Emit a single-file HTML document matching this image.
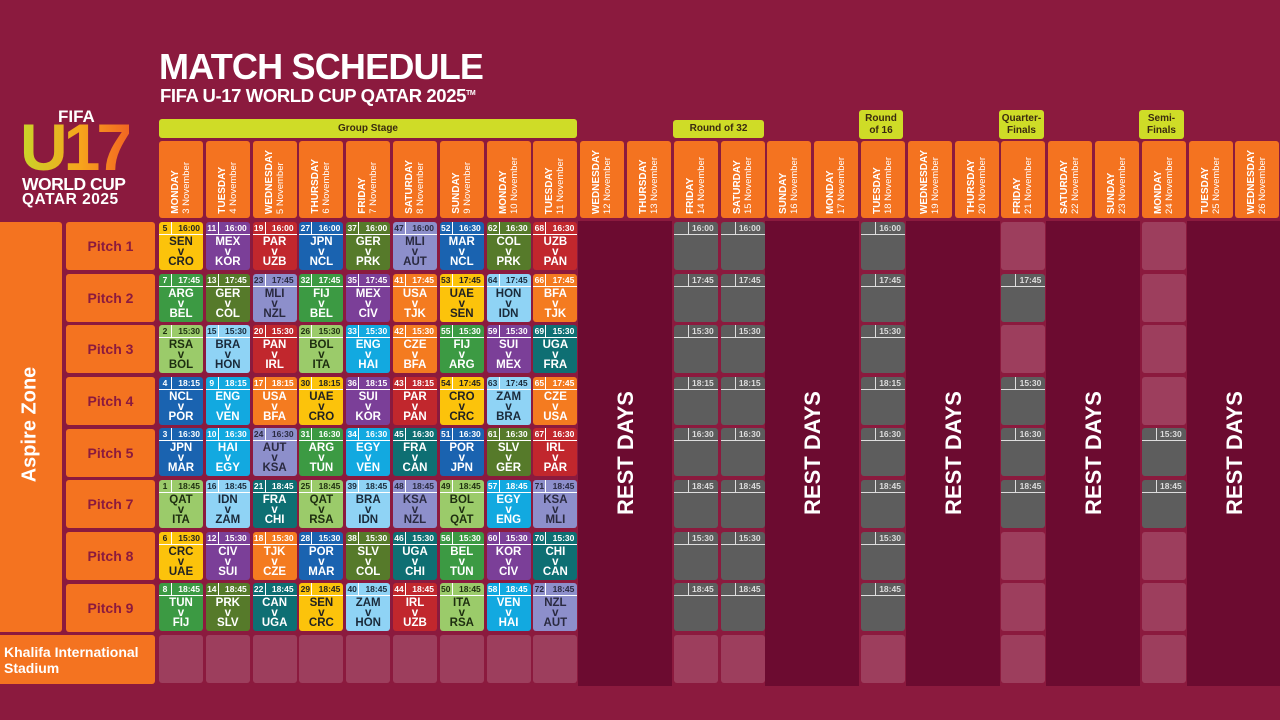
<!DOCTYPE html>
<html><head><meta charset="utf-8"><style>
*{margin:0;padding:0;box-sizing:border-box}
body{width:1280px;height:720px;overflow:hidden;background:#8b1a3e;font-family:"Liberation Sans",sans-serif;position:relative}
.abs{position:absolute}
.t1{left:159px;top:46px;color:#fff;font-weight:bold;font-size:36px;letter-spacing:-0.8px}
.t2{left:160px;top:85px;color:#fff;font-weight:bold;font-size:18.5px;letter-spacing:-0.4px}
.stage{position:absolute;background:#cfdc27;border-radius:3px;color:#3a2a10;font-weight:bold;font-size:10px;text-align:center;display:flex;align-items:center;justify-content:center;line-height:12px}
.hdr{position:absolute;top:141px;height:77px;width:44px;background:#f47320;border-radius:3px;display:flex;justify-content:center;align-items:flex-end;padding-bottom:4px}
.hdr span{writing-mode:vertical-rl;transform:rotate(180deg);color:#fff;font-size:9.5px;line-height:11px;white-space:nowrap}
.hdr b{font-size:10px}
.rest{position:absolute;top:221px;height:465px;background:#6c0b30}
.restt{position:absolute;color:#fff;font-weight:bold;font-size:22px;transform:rotate(-90deg);white-space:nowrap;width:140px;text-align:center}
.grid{position:absolute;left:159px;top:222px;display:grid;grid-template-columns:repeat(24,44px);column-gap:2.8px;grid-template-rows:repeat(9,48px);row-gap:3.6px}
.grid>i{display:block}
.m{border-radius:3px;position:relative;color:#fff;font-weight:bold;text-align:center;overflow:hidden}
.m b{position:absolute;left:0;top:0;width:13px;height:12px;font-size:8.5px;line-height:12px;border-right:1.5px solid #fff}
.m s{position:absolute;right:3px;top:0;height:12px;font-size:8.5px;line-height:12px;text-decoration:none}
.m:before{content:"";position:absolute;left:0;right:0;top:12px;border-top:1.5px solid #fff}
.m p{position:absolute;top:15px;left:0;right:0;font-size:11.5px;line-height:10px}
.k{background:#5d5d5d;border-radius:3px;position:relative;color:#ddd;font-weight:bold}
.k:before{content:"";position:absolute;left:0;right:0;top:12px;border-top:1.5px solid #ddd}
.k:after{content:"";position:absolute;left:14px;top:0;height:12px;border-left:1.5px solid #ddd}
.k s{position:absolute;right:4px;top:0;font-size:8.5px;line-height:12px;text-decoration:none}
.e{background:rgba(255,255,255,0.16);border-radius:3px}
.Y{background:#fcc30b;color:#222}.P{background:#7b3f98}.R{background:#c1272d}.B{background:#1a63b0}.O{background:#567a2a}.L{background:#8d8fcb;color:#2a2a40}.G{background:#3c9a43}.N{background:#f47b20}.LB{background:#8fd3f5;color:#1a2a3a}.LG{background:#9bcb6a;color:#1e2e10}.C{background:#12a9e0}.T{background:#0e6f73}
.pl{position:absolute;left:66px;width:89px;height:48px;background:#f47320;border-radius:3px;color:#8b1a3e;font-weight:bold;font-size:14px;display:flex;align-items:center;justify-content:center}
</style></head><body>
<div class="abs t1">MATCH SCHEDULE</div>
<div class="abs t2">FIFA U-17 WORLD CUP QATAR 2025<sup style="font-size:7px">TM</sup></div>
<!-- logo -->
<div class="abs" style="left:58px;top:107px;color:#fff;font-weight:bold;font-size:17px">FIFA</div>
<div class="abs" style="left:20px;top:114px;font-weight:bold;font-size:66px;letter-spacing:-4px;background:linear-gradient(90deg,#c8d62a,#f7a51c 55%,#f26522);-webkit-background-clip:text;background-clip:text;color:transparent;line-height:66px">U17</div>
<div class="abs" style="left:22px;top:174px;color:#fff;font-weight:bold;font-size:17.5px;letter-spacing:-0.5px">WORLD CUP</div>
<div class="abs" style="left:22px;top:191px;color:#fff;font-weight:bold;font-size:15.5px;letter-spacing:0.5px">QATAR 2025</div>

<div class="stage" style="left:159px;top:119px;width:418px;height:19px">Group Stage</div>
<div class="stage" style="left:673px;top:120px;width:91px;height:18px">Round of 32</div>
<div class="stage" style="left:859px;top:110px;width:44px;height:29px">Round<br>of 16</div>
<div class="stage" style="left:999px;top:110px;width:45px;height:29px">Quarter-<br>Finals</div>
<div class="stage" style="left:1139px;top:110px;width:45px;height:29px">Semi-<br>Finals</div>

<div class="hdr" style="left:159px"><span><b>MONDAY</b><br>3 November</span></div>
<div class="hdr" style="left:206px"><span><b>TUESDAY</b><br>4 November</span></div>
<div class="hdr" style="left:253px"><span><b>WEDNESDAY</b><br>5 November</span></div>
<div class="hdr" style="left:299px"><span><b>THURSDAY</b><br>6 November</span></div>
<div class="hdr" style="left:346px"><span><b>FRIDAY</b><br>7 November</span></div>
<div class="hdr" style="left:393px"><span><b>SATURDAY</b><br>8 November</span></div>
<div class="hdr" style="left:440px"><span><b>SUNDAY</b><br>9 November</span></div>
<div class="hdr" style="left:487px"><span><b>MONDAY</b><br>10 November</span></div>
<div class="hdr" style="left:533px"><span><b>TUESDAY</b><br>11 November</span></div>
<div class="hdr" style="left:580px"><span><b>WEDNESDAY</b><br>12 November</span></div>
<div class="hdr" style="left:627px"><span><b>THURSDAY</b><br>13 November</span></div>
<div class="hdr" style="left:674px"><span><b>FRIDAY</b><br>14 November</span></div>
<div class="hdr" style="left:721px"><span><b>SATURDAY</b><br>15 November</span></div>
<div class="hdr" style="left:767px"><span><b>SUNDAY</b><br>16 November</span></div>
<div class="hdr" style="left:814px"><span><b>MONDAY</b><br>17 November</span></div>
<div class="hdr" style="left:861px"><span><b>TUESDAY</b><br>18 November</span></div>
<div class="hdr" style="left:908px"><span><b>WEDNESDAY</b><br>19 November</span></div>
<div class="hdr" style="left:955px"><span><b>THURSDAY</b><br>20 November</span></div>
<div class="hdr" style="left:1001px"><span><b>FRIDAY</b><br>21 November</span></div>
<div class="hdr" style="left:1048px"><span><b>SATURDAY</b><br>22 November</span></div>
<div class="hdr" style="left:1095px"><span><b>SUNDAY</b><br>23 November</span></div>
<div class="hdr" style="left:1142px"><span><b>MONDAY</b><br>24 November</span></div>
<div class="hdr" style="left:1189px"><span><b>TUESDAY</b><br>25 November</span></div>
<div class="hdr" style="left:1235px"><span><b>WEDNESDAY</b><br>26 November</span></div>

<div class="rest" style="left:578px;width:94px"></div>
<div class="rest" style="left:765px;width:94px"></div>
<div class="rest" style="left:906px;width:94px"></div>
<div class="rest" style="left:1046px;width:94px"></div>
<div class="rest" style="left:1187px;width:93px"></div>
<div class="restt" style="left:556px;top:440px">REST DAYS</div>
<div class="restt" style="left:743px;top:440px">REST DAYS</div>
<div class="restt" style="left:884px;top:440px">REST DAYS</div>
<div class="restt" style="left:1024px;top:440px">REST DAYS</div>
<div class="restt" style="left:1165px;top:440px">REST DAYS</div>

<div class="abs" style="left:0;top:222px;width:62px;height:410px;background:#f47320;border-radius:0 3px 3px 0"></div>
<div class="abs" style="left:-50px;top:413px;width:160px;text-align:center;color:#fff;font-weight:bold;font-size:20px;transform:rotate(-90deg)">Aspire Zone</div>
<div class="pl" style="top:222px">Pitch 1</div>
<div class="pl" style="top:274px">Pitch 2</div>
<div class="pl" style="top:325px">Pitch 3</div>
<div class="pl" style="top:377px">Pitch 4</div>
<div class="pl" style="top:429px">Pitch 5</div>
<div class="pl" style="top:480px">Pitch 7</div>
<div class="pl" style="top:532px">Pitch 8</div>
<div class="pl" style="top:584px">Pitch 9</div>
<div class="abs" style="left:0;top:635px;width:155px;height:49px;background:#f47320;border-radius:0 3px 3px 0;color:#fff;font-weight:bold;font-size:14px;line-height:16px;padding:9px 0 0 4px">Khalifa International Stadium</div>

<div class="grid">
<!-- Pitch 1 -->
<div class="m Y"><b>5</b><s>16:00</s><p>SEN<br>v<br>CRO</p></div>
<div class="m P"><b>11</b><s>16:00</s><p>MEX<br>v<br>KOR</p></div>
<div class="m R"><b>19</b><s>16:00</s><p>PAR<br>v<br>UZB</p></div>
<div class="m B"><b>27</b><s>16:00</s><p>JPN<br>v<br>NCL</p></div>
<div class="m O"><b>37</b><s>16:00</s><p>GER<br>v<br>PRK</p></div>
<div class="m L"><b>47</b><s>16:00</s><p>MLI<br>v<br>AUT</p></div>
<div class="m B"><b>52</b><s>16:30</s><p>MAR<br>v<br>NCL</p></div>
<div class="m O"><b>62</b><s>16:30</s><p>COL<br>v<br>PRK</p></div>
<div class="m R"><b>68</b><s>16:30</s><p>UZB<br>v<br>PAN</p></div>
<i></i><i></i><div class="k"><s>16:00</s></div><div class="k"><s>16:00</s></div><i></i><i></i><div class="k"><s>16:00</s></div><i></i><i></i><div class="e"></div><i></i><i></i><div class="e"></div><i></i><i></i>
<!-- Pitch 2 -->
<div class="m G"><b>7</b><s>17:45</s><p>ARG<br>v<br>BEL</p></div>
<div class="m O"><b>13</b><s>17:45</s><p>GER<br>v<br>COL</p></div>
<div class="m L"><b>23</b><s>17:45</s><p>MLI<br>v<br>NZL</p></div>
<div class="m G"><b>32</b><s>17:45</s><p>FIJ<br>v<br>BEL</p></div>
<div class="m P"><b>35</b><s>17:45</s><p>MEX<br>v<br>CIV</p></div>
<div class="m N"><b>41</b><s>17:45</s><p>USA<br>v<br>TJK</p></div>
<div class="m Y"><b>53</b><s>17:45</s><p>UAE<br>v<br>SEN</p></div>
<div class="m LB"><b>64</b><s>17:45</s><p>HON<br>v<br>IDN</p></div>
<div class="m N"><b>66</b><s>17:45</s><p>BFA<br>v<br>TJK</p></div>
<i></i><i></i><div class="k"><s>17:45</s></div><div class="k"><s>17:45</s></div><i></i><i></i><div class="k"><s>17:45</s></div><i></i><i></i><div class="k"><s>17:45</s></div><i></i><i></i><div class="e"></div><i></i><i></i>
<!-- Pitch 3 -->
<div class="m LG"><b>2</b><s>15:30</s><p>RSA<br>v<br>BOL</p></div>
<div class="m LB"><b>15</b><s>15:30</s><p>BRA<br>v<br>HON</p></div>
<div class="m R"><b>20</b><s>15:30</s><p>PAN<br>v<br>IRL</p></div>
<div class="m LG"><b>26</b><s>15:30</s><p>BOL<br>v<br>ITA</p></div>
<div class="m C"><b>33</b><s>15:30</s><p>ENG<br>v<br>HAI</p></div>
<div class="m N"><b>42</b><s>15:30</s><p>CZE<br>v<br>BFA</p></div>
<div class="m G"><b>55</b><s>15:30</s><p>FIJ<br>v<br>ARG</p></div>
<div class="m P"><b>59</b><s>15:30</s><p>SUI<br>v<br>MEX</p></div>
<div class="m T"><b>69</b><s>15:30</s><p>UGA<br>v<br>FRA</p></div>
<i></i><i></i><div class="k"><s>15:30</s></div><div class="k"><s>15:30</s></div><i></i><i></i><div class="k"><s>15:30</s></div><i></i><i></i><div class="e"></div><i></i><i></i><div class="e"></div><i></i><i></i>
<!-- Pitch 4 -->
<div class="m B"><b>4</b><s>18:15</s><p>NCL<br>v<br>POR</p></div>
<div class="m C"><b>9</b><s>18:15</s><p>ENG<br>v<br>VEN</p></div>
<div class="m N"><b>17</b><s>18:15</s><p>USA<br>v<br>BFA</p></div>
<div class="m Y"><b>30</b><s>18:15</s><p>UAE<br>v<br>CRO</p></div>
<div class="m P"><b>36</b><s>18:15</s><p>SUI<br>v<br>KOR</p></div>
<div class="m R"><b>43</b><s>18:15</s><p>PAR<br>v<br>PAN</p></div>
<div class="m Y"><b>54</b><s>17:45</s><p>CRO<br>v<br>CRC</p></div>
<div class="m LB"><b>63</b><s>17:45</s><p>ZAM<br>v<br>BRA</p></div>
<div class="m N"><b>65</b><s>17:45</s><p>CZE<br>v<br>USA</p></div>
<i></i><i></i><div class="k"><s>18:15</s></div><div class="k"><s>18:15</s></div><i></i><i></i><div class="k"><s>18:15</s></div><i></i><i></i><div class="k"><s>15:30</s></div><i></i><i></i><div class="e"></div><i></i><i></i>
<!-- Pitch 5 -->
<div class="m B"><b>3</b><s>16:30</s><p>JPN<br>v<br>MAR</p></div>
<div class="m C"><b>10</b><s>16:30</s><p>HAI<br>v<br>EGY</p></div>
<div class="m L"><b>24</b><s>16:30</s><p>AUT<br>v<br>KSA</p></div>
<div class="m G"><b>31</b><s>16:30</s><p>ARG<br>v<br>TUN</p></div>
<div class="m C"><b>34</b><s>16:30</s><p>EGY<br>v<br>VEN</p></div>
<div class="m T"><b>45</b><s>16:30</s><p>FRA<br>v<br>CAN</p></div>
<div class="m B"><b>51</b><s>16:30</s><p>POR<br>v<br>JPN</p></div>
<div class="m O"><b>61</b><s>16:30</s><p>SLV<br>v<br>GER</p></div>
<div class="m R"><b>67</b><s>16:30</s><p>IRL<br>v<br>PAR</p></div>
<i></i><i></i><div class="k"><s>16:30</s></div><div class="k"><s>16:30</s></div><i></i><i></i><div class="k"><s>16:30</s></div><i></i><i></i><div class="k"><s>16:30</s></div><i></i><i></i><div class="k"><s>15:30</s></div><i></i><i></i>
<!-- Pitch 7 -->
<div class="m LG"><b>1</b><s>18:45</s><p>QAT<br>v<br>ITA</p></div>
<div class="m LB"><b>16</b><s>18:45</s><p>IDN<br>v<br>ZAM</p></div>
<div class="m T"><b>21</b><s>18:45</s><p>FRA<br>v<br>CHI</p></div>
<div class="m LG"><b>25</b><s>18:45</s><p>QAT<br>v<br>RSA</p></div>
<div class="m LB"><b>39</b><s>18:45</s><p>BRA<br>v<br>IDN</p></div>
<div class="m L"><b>48</b><s>18:45</s><p>KSA<br>v<br>NZL</p></div>
<div class="m LG"><b>49</b><s>18:45</s><p>BOL<br>v<br>QAT</p></div>
<div class="m C"><b>57</b><s>18:45</s><p>EGY<br>v<br>ENG</p></div>
<div class="m L"><b>71</b><s>18:45</s><p>KSA<br>v<br>MLI</p></div>
<i></i><i></i><div class="k"><s>18:45</s></div><div class="k"><s>18:45</s></div><i></i><i></i><div class="k"><s>18:45</s></div><i></i><i></i><div class="k"><s>18:45</s></div><i></i><i></i><div class="k"><s>18:45</s></div><i></i><i></i>
<!-- Pitch 8 -->
<div class="m Y"><b>6</b><s>15:30</s><p>CRC<br>v<br>UAE</p></div>
<div class="m P"><b>12</b><s>15:30</s><p>CIV<br>v<br>SUI</p></div>
<div class="m N"><b>18</b><s>15:30</s><p>TJK<br>v<br>CZE</p></div>
<div class="m B"><b>28</b><s>15:30</s><p>POR<br>v<br>MAR</p></div>
<div class="m O"><b>38</b><s>15:30</s><p>SLV<br>v<br>COL</p></div>
<div class="m T"><b>46</b><s>15:30</s><p>UGA<br>v<br>CHI</p></div>
<div class="m G"><b>56</b><s>15:30</s><p>BEL<br>v<br>TUN</p></div>
<div class="m P"><b>60</b><s>15:30</s><p>KOR<br>v<br>CIV</p></div>
<div class="m T"><b>70</b><s>15:30</s><p>CHI<br>v<br>CAN</p></div>
<i></i><i></i><div class="k"><s>15:30</s></div><div class="k"><s>15:30</s></div><i></i><i></i><div class="k"><s>15:30</s></div><i></i><i></i><div class="e"></div><i></i><i></i><div class="e"></div><i></i><i></i>
<!-- Pitch 9 -->
<div class="m G"><b>8</b><s>18:45</s><p>TUN<br>v<br>FIJ</p></div>
<div class="m O"><b>14</b><s>18:45</s><p>PRK<br>v<br>SLV</p></div>
<div class="m T"><b>22</b><s>18:45</s><p>CAN<br>v<br>UGA</p></div>
<div class="m Y"><b>29</b><s>18:45</s><p>SEN<br>v<br>CRC</p></div>
<div class="m LB"><b>40</b><s>18:45</s><p>ZAM<br>v<br>HON</p></div>
<div class="m R"><b>44</b><s>18:45</s><p>IRL<br>v<br>UZB</p></div>
<div class="m LG"><b>50</b><s>18:45</s><p>ITA<br>v<br>RSA</p></div>
<div class="m C"><b>58</b><s>18:45</s><p>VEN<br>v<br>HAI</p></div>
<div class="m L"><b>72</b><s>18:45</s><p>NZL<br>v<br>AUT</p></div>
<i></i><i></i><div class="k"><s>18:45</s></div><div class="k"><s>18:45</s></div><i></i><i></i><div class="k"><s>18:45</s></div><i></i><i></i><div class="e"></div><i></i><i></i><div class="e"></div><i></i><i></i>
<!-- Khalifa -->
<div class="e"></div><div class="e"></div><div class="e"></div><div class="e"></div><div class="e"></div><div class="e"></div><div class="e"></div><div class="e"></div><div class="e"></div>
<i></i><i></i><div class="e"></div><div class="e"></div><i></i><i></i><div class="e"></div><i></i><i></i><div class="e"></div><i></i><i></i><div class="e"></div><i></i><i></i>
</div>
</body></html>
